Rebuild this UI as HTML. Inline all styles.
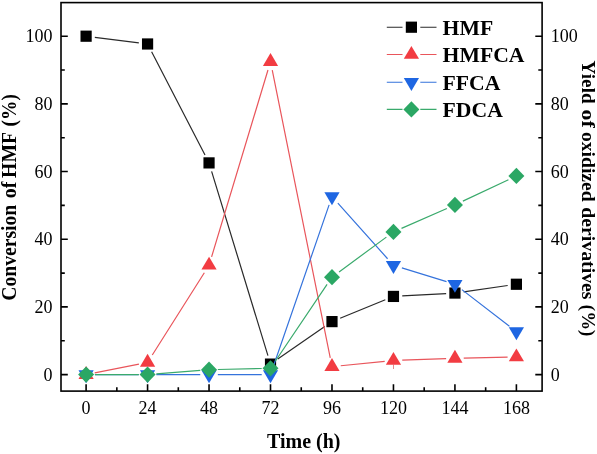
<!DOCTYPE html>
<html><head><meta charset="utf-8"><style>
html,body{margin:0;padding:0;background:#fff;width:597px;height:454px;overflow:hidden}
svg{display:block;will-change:transform}
text{font-family:"Liberation Serif",serif;fill:#000}
</style></head><body>
<svg width="597" height="454" viewBox="0 0 597 454" font-family="Liberation Serif, serif">
<rect width="597" height="454" fill="#fff"/>
<path d="M94.83,37.31L138.84,42.88M151.61,51.80L205.00,155.08M211.61,171.31L267.94,355.69M277.75,359.10L324.75,326.61M340.13,318.27L385.31,299.76M402.24,295.95L446.14,293.53M463.64,291.80L507.69,285.49" stroke="#2a2a2a" stroke-width="1.2" fill="none"/>
<rect x="80.50" y="30.60" width="11.2" height="11.2" fill="#000000"/>
<rect x="141.97" y="38.38" width="11.2" height="11.2" fill="#000000"/>
<rect x="203.44" y="157.30" width="11.2" height="11.2" fill="#000000"/>
<rect x="264.91" y="358.51" width="11.2" height="11.2" fill="#000000"/>
<rect x="326.39" y="316.01" width="11.2" height="11.2" fill="#000000"/>
<rect x="387.86" y="290.83" width="11.2" height="11.2" fill="#000000"/>
<rect x="449.33" y="287.45" width="11.2" height="11.2" fill="#000000"/>
<rect x="510.80" y="278.65" width="11.2" height="11.2" fill="#000000"/>
<path d="M393.5,364.6V369" stroke="#e58a8e" stroke-width="1"/>
<path d="M94.73,372.89L138.94,364.13M152.28,354.98L204.34,272.73M211.59,256.87L267.97,70.00M272.25,70.21L330.25,357.99M340.74,365.74L384.70,361.36M402.25,360.18L446.13,358.66M463.73,358.16L507.60,357.20" stroke="#e9555b" stroke-width="1.2" fill="none"/>
<polygon points="86.10,366.00 93.70,378.90 78.50,378.90" fill="#f23c42"/>
<polygon points="147.57,353.82 155.17,366.72 139.97,366.72" fill="#f23c42"/>
<polygon points="209.04,256.70 216.64,269.60 201.44,269.60" fill="#f23c42"/>
<polygon points="270.51,52.98 278.11,65.88 262.91,65.88" fill="#f23c42"/>
<polygon points="331.99,358.01 339.59,370.91 324.39,370.91" fill="#f23c42"/>
<polygon points="393.46,351.89 401.06,364.79 385.86,364.79" fill="#f23c42"/>
<polygon points="454.93,349.76 462.53,362.66 447.33,362.66" fill="#f23c42"/>
<polygon points="516.40,348.40 524.00,361.30 508.80,361.30" fill="#f23c42"/>
<path d="M94.90,374.60L138.77,374.60M156.37,374.60L200.24,374.60M217.84,374.60L261.71,374.60M273.39,366.28L329.11,204.92M337.85,203.16L387.59,258.74M401.87,267.89L446.52,281.65M461.90,289.62L509.43,326.25" stroke="#3573dc" stroke-width="1.2" fill="none"/>
<polygon points="78.50,370.30 93.70,370.30 86.10,383.20" fill="#1e66e2"/>
<polygon points="139.97,370.30 155.17,370.30 147.57,383.20" fill="#1e66e2"/>
<polygon points="201.44,370.30 216.64,370.30 209.04,383.20" fill="#1e66e2"/>
<polygon points="262.91,370.30 278.11,370.30 270.51,383.20" fill="#1e66e2"/>
<polygon points="324.39,192.30 339.59,192.30 331.99,205.20" fill="#1e66e2"/>
<polygon points="385.86,261.00 401.06,261.00 393.46,273.90" fill="#1e66e2"/>
<polygon points="447.33,279.95 462.53,279.95 454.93,292.85" fill="#1e66e2"/>
<polygon points="508.80,327.32 524.00,327.32 516.40,340.22" fill="#1e66e2"/>
<path d="M94.90,374.60L138.77,374.60M156.34,373.90L200.27,370.39M217.84,369.49L261.72,368.50M275.43,361.01L327.07,284.44M339.07,271.92L386.37,237.11M401.51,228.36L446.87,208.43M462.89,201.14L508.44,179.71" stroke="#3aaa6c" stroke-width="1.2" fill="none"/>
<polygon points="86.10,366.50 94.10,374.60 86.10,382.70 78.10,374.60" fill="#2ba764"/>
<polygon points="147.57,366.50 155.57,374.60 147.57,382.70 139.57,374.60" fill="#2ba764"/>
<polygon points="209.04,361.59 217.04,369.69 209.04,377.79 201.04,369.69" fill="#2ba764"/>
<polygon points="270.51,360.21 278.51,368.31 270.51,376.41 262.51,368.31" fill="#2ba764"/>
<polygon points="331.99,269.04 339.99,277.14 331.99,285.24 323.99,277.14" fill="#2ba764"/>
<polygon points="393.46,223.80 401.46,231.90 393.46,240.00 385.46,231.90" fill="#2ba764"/>
<polygon points="454.93,196.79 462.93,204.89 454.93,212.99 446.93,204.89" fill="#2ba764"/>
<polygon points="516.40,167.86 524.40,175.96 516.40,184.06 508.40,175.96" fill="#2ba764"/>
<rect x="61.0" y="2.6" width="481.1" height="388.5" fill="none" stroke="#000" stroke-width="1.6"/>
<path d="M86.10,391.1V384.30M116.84,391.1V387.30M147.57,391.1V384.30M178.31,391.1V387.30M209.04,391.1V384.30M239.78,391.1V387.30M270.51,391.1V384.30M301.25,391.1V387.30M331.99,391.1V384.30M362.72,391.1V387.30M393.46,391.1V384.30M424.19,391.1V387.30M454.93,391.1V384.30M485.66,391.1V387.30M516.40,391.1V384.30M61.0,374.60H67.80M542.1,374.60H535.30M61.0,340.76H64.80M542.1,340.76H538.30M61.0,306.92H67.80M542.1,306.92H535.30M61.0,273.08H64.80M542.1,273.08H538.30M61.0,239.24H67.80M542.1,239.24H535.30M61.0,205.40H64.80M542.1,205.40H538.30M61.0,171.56H67.80M542.1,171.56H535.30M61.0,137.72H64.80M542.1,137.72H538.30M61.0,103.88H67.80M542.1,103.88H535.30M61.0,70.04H64.80M542.1,70.04H538.30M61.0,36.20H67.80M542.1,36.20H535.30" stroke="#000" stroke-width="1.6" fill="none"/>
<text x="86.10" y="414.4" text-anchor="middle" font-size="18">0</text>
<text x="147.57" y="414.4" text-anchor="middle" font-size="18">24</text>
<text x="209.04" y="414.4" text-anchor="middle" font-size="18">48</text>
<text x="270.51" y="414.4" text-anchor="middle" font-size="18">72</text>
<text x="331.99" y="414.4" text-anchor="middle" font-size="18">96</text>
<text x="393.46" y="414.4" text-anchor="middle" font-size="18">120</text>
<text x="454.93" y="414.4" text-anchor="middle" font-size="18">144</text>
<text x="516.40" y="414.4" text-anchor="middle" font-size="18">168</text>
<text x="52.4" y="380.70" text-anchor="end" font-size="18">0</text>
<text x="550.7" y="380.70" text-anchor="start" font-size="18">0</text>
<text x="52.4" y="313.02" text-anchor="end" font-size="18">20</text>
<text x="550.7" y="313.02" text-anchor="start" font-size="18">20</text>
<text x="52.4" y="245.34" text-anchor="end" font-size="18">40</text>
<text x="550.7" y="245.34" text-anchor="start" font-size="18">40</text>
<text x="52.4" y="177.66" text-anchor="end" font-size="18">60</text>
<text x="550.7" y="177.66" text-anchor="start" font-size="18">60</text>
<text x="52.4" y="109.98" text-anchor="end" font-size="18">80</text>
<text x="550.7" y="109.98" text-anchor="start" font-size="18">80</text>
<text x="52.4" y="42.30" text-anchor="end" font-size="18">100</text>
<text x="550.7" y="42.30" text-anchor="start" font-size="18">100</text>
<text x="303.7" y="448.1" text-anchor="middle" font-size="20" font-weight="bold">Time (h)</text>
<text transform="translate(15.6,126.47) rotate(-90) scale(0.9719,1)" font-size="20" font-weight="bold">(%)</text>
<text transform="translate(15.6,177.90) rotate(-90) scale(0.9870,1)" font-size="20" font-weight="bold">HMF</text>
<text transform="translate(15.6,198.20) rotate(-90) scale(1.0000,1)" font-size="20" font-weight="bold">of</text>
<text transform="translate(15.6,300.78) rotate(-90) scale(0.9825,1)" font-size="20" font-weight="bold">Conversion</text>
<text transform="translate(582.1,60.60) rotate(90) scale(0.9622,0.89)" font-size="20" font-weight="bold">Yield</text>
<text transform="translate(582.1,109.61) rotate(90) scale(1.0937,0.89)" font-size="20" font-weight="bold">of</text>
<text transform="translate(582.1,132.02) rotate(90) scale(0.9786,0.89)" font-size="20" font-weight="bold">oxidized</text>
<text transform="translate(582.1,207.31) rotate(90) scale(0.9880,0.89)" font-size="20" font-weight="bold">derivatives</text>
<text transform="translate(582.1,304.85) rotate(90) scale(0.9469,0.89)" font-size="20" font-weight="bold">(%)</text>
<path d="M386.8,27.2H402.5M420.3,27.2H436.5" stroke="#2a2a2a" stroke-width="1.1"/>
<rect x="405.80" y="21.60" width="11.2" height="11.2" fill="#000000"/>
<text x="442.6" y="35.10" font-size="21.7" font-weight="bold">HMF</text>
<path d="M386.8,54.5H402.5M420.3,54.5H436.5" stroke="#e9555b" stroke-width="1.1"/>
<polygon points="411.40,45.90 419.00,58.80 403.80,58.80" fill="#f23c42"/>
<text x="442.6" y="62.40" font-size="21.7" font-weight="bold">HMFCA</text>
<path d="M386.8,82.3H402.5M420.3,82.3H436.5" stroke="#3573dc" stroke-width="1.1"/>
<polygon points="403.80,78.00 419.00,78.00 411.40,90.90" fill="#1e66e2"/>
<text x="442.6" y="90.20" font-size="21.7" font-weight="bold">FFCA</text>
<path d="M386.8,109.4H402.5M420.3,109.4H436.5" stroke="#3aaa6c" stroke-width="1.1"/>
<polygon points="411.40,101.30 419.40,109.40 411.40,117.50 403.40,109.40" fill="#2ba764"/>
<text x="442.6" y="117.30" font-size="21.7" font-weight="bold">FDCA</text>
</svg>
</body></html>
